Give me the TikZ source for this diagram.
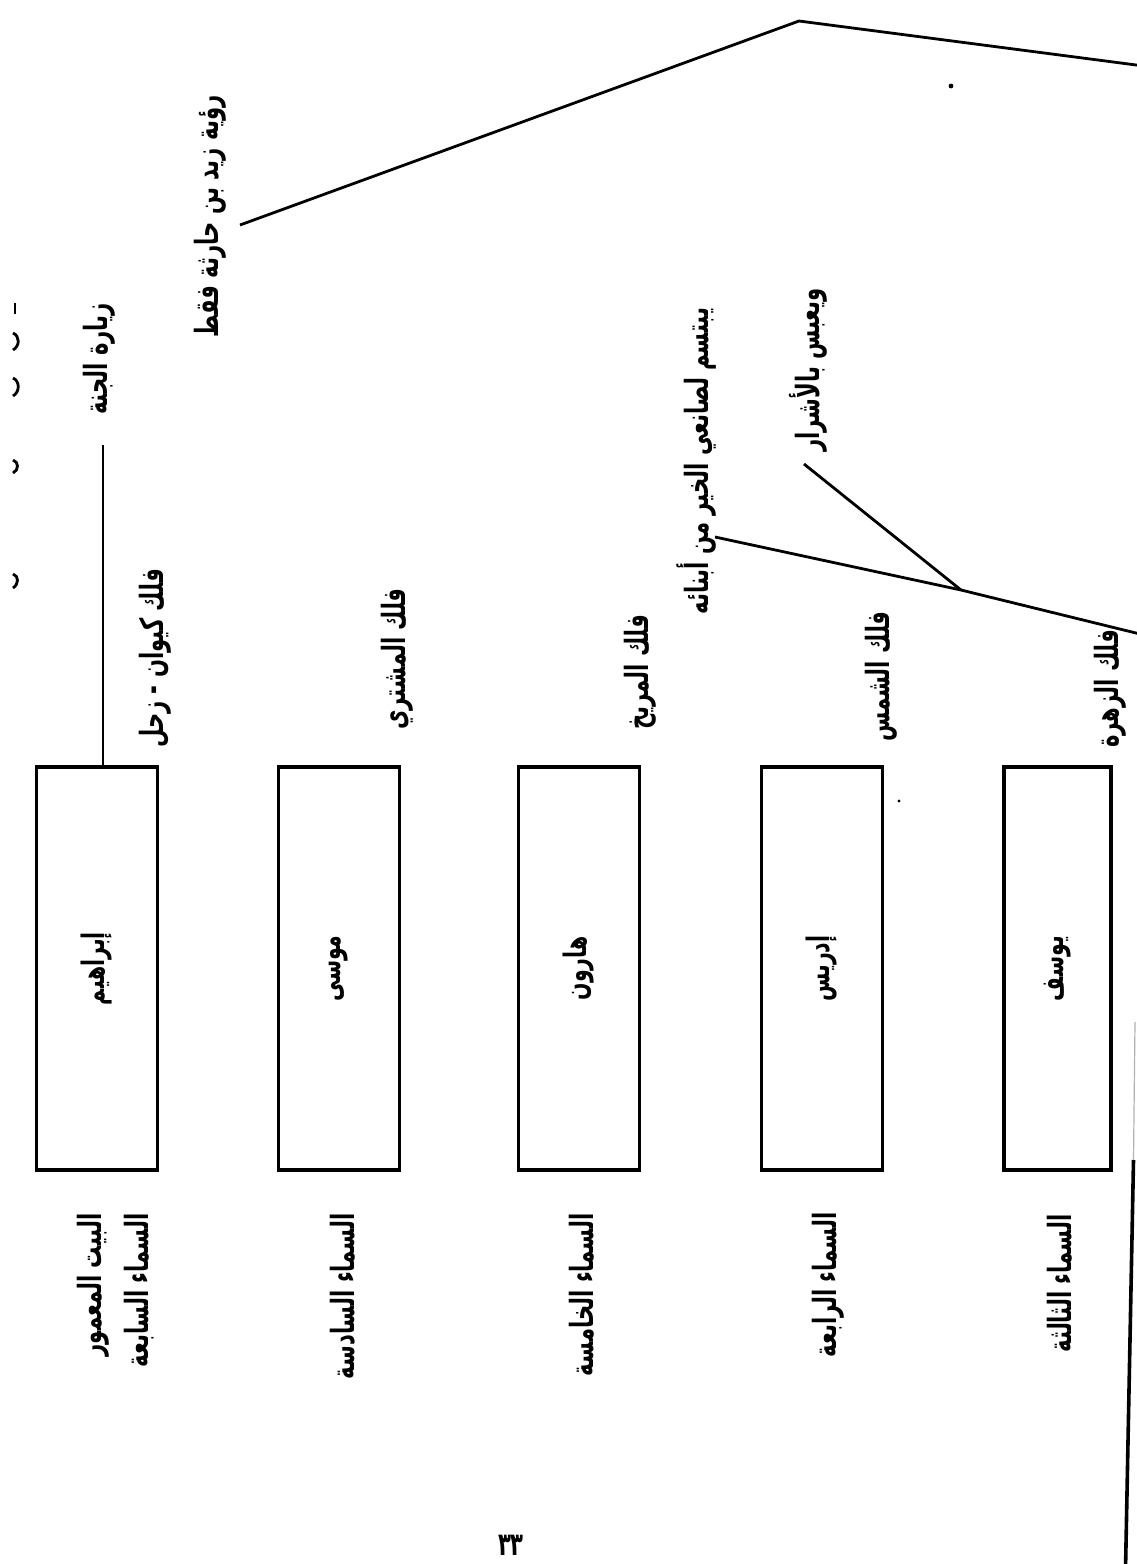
\documentclass[tikz,border=0pt]{standalone}
\usepackage{fontspec}
\usepackage{tikz}
\usetikzlibrary{calc}
\TeXXeTstate=1
\newfontfamily\arabicfont[Script=Arabic,FakeStretch=0.66]{DejaVu Sans}
\newcommand{\artxt}[1]{\beginR #1\endR}

\begin{document}
\begin{tikzpicture}[x=0.5pt,y=-0.5pt,
    heaven/.style={draw, line width=1.8pt, minimum width=60.5pt, minimum height=201.5pt, inner sep=0pt, font=\arabicfont\bfseries\fontsize{15.5}{18}\selectfont},
    lbl/.style={rotate=90, inner sep=0pt, font=\arabicfont\bfseries\fontsize{16}{23.5}\selectfont},
    link/.style={line width=1.4pt}]
            \path[use as bounding box, fill=white] (0,0) rectangle (1136,1564);

            \node[heaven] (ibrahim) at (97,968.5) {\rotatebox{90}{\artxt{إبراهيم}}};
            \node[heaven] (musa) at (339,968.5) {\rotatebox{90}{\artxt{موسى}}};
            \node[heaven] (harun) at (579,968.5) {\rotatebox{90}{\artxt{هارون}}};
            \node[heaven] (idris) at (822,968.5) {\rotatebox{90}{\artxt{إدريس}}};
            \node[heaven, minimum width=53.5pt] (yusuf) at (1057.5,968.5) {\rotatebox{90}{\artxt{يوسف}}};

            \node[lbl, anchor=west] (kaywan) at (155,748) {\artxt{فلك كيوان - زحل}};
            \node[lbl, anchor=west] (mushtari) at (397,730) {\artxt{فلك المشتري}};
            \node[lbl, anchor=west] (mirrikh) at (640,730) {\artxt{فلك المريخ}};
            \node[lbl, anchor=west] (shams) at (881,742) {\artxt{فلك الشمس}};
            \node[lbl, anchor=west] (zuhara) at (1110,748) {\artxt{فلك الزهرة}};

            \node[lbl, anchor=east, align=right] (sabia) at (116,1213) {\artxt{البيت المعمور}\\\artxt{السماء السابعة}};
            \node[lbl, anchor=east] (sadisa) at (343,1213) {\artxt{السماء السادسة}};
            \node[lbl, anchor=east] (khamisa) at (582,1213) {\artxt{السماء الخامسة}};
            \node[lbl, anchor=east] (rabia) at (828,1212) {\artxt{السماء الرابعة}};
            \node[lbl, anchor=east] (thalitha) at (1060,1214) {\artxt{السماء الثالثة}};

            \node[lbl] (janna) at (99,359) {\artxt{زيارة الجنة}};
            \node[lbl] (zayd) at (210,216) {\artxt{رؤية زيد بن حارثة فقط}};
            \node[lbl] (smile) at (697,461) {\artxt{يبتسم لصانعي الخير من أبنائه}};
            \node[lbl] (frown) at (808,370) {\artxt{ويعبس بالأشرار}};

            \coordinate (JT) at (103,445);
            \draw[link] (JT) -- (JT |- ibrahim.north);

            \coordinate (ZA) at (240,225);
            \coordinate (ZB) at (799,21);
            \coordinate (ZC) at (1140,65.5);
            \draw[link] (ZA) -- (ZB) -- (ZC);

            \coordinate (SA) at (715,537);
            \coordinate (SJ) at (961,590);
            \coordinate (SB) at (1140,634);
            \coordinate (FA) at (804,464);
            \draw[link] (SA) -- (SJ) -- (SB);
            \draw[link] (FA) -- (SJ);

            \coordinate (RT) at (1135,1022);
            \coordinate (RM) at (1133.5,1160);
            \coordinate (RB) at (1125.5,1570);
            \draw[line width=0.6pt, gray!60] (RT) -- (RM);
            \draw[line width=1.8pt] (RM) -- (RB);

            \fill (951,86) circle (1.2pt);
            \fill (899,801) circle (0.8pt);

            \draw[link] (15,303) -- (15,314);
            \draw[link] (13,333) .. controls (20,336) and (20,346) .. (13,350);
            \draw[link] (13,378) .. controls (20,381) and (20,392) .. (13,396);
            \draw[link] (13,460) .. controls (19,462) and (19,470) .. (13,473);
            \draw[link] (13,574) .. controls (19,576) and (19,584) .. (13,588);

            \node[font=\arabicfont\bfseries\fontsize{16}{18}\selectfont] (pagenum) at (511,1545) {\artxt{٣٣}};
        \end{tikzpicture}
\end{document}
